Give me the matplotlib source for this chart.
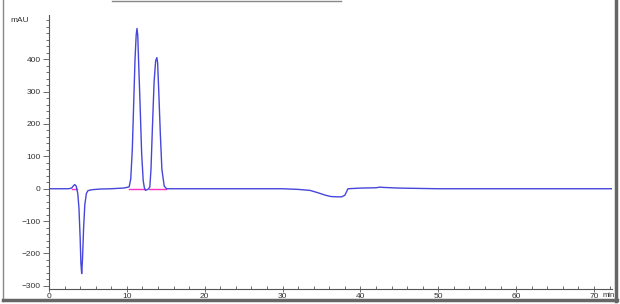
import matplotlib.pyplot as plt
from matplotlib.lines import Line2D
from matplotlib.ticker import MultipleLocator

plt.rcParams["font.family"] = ["Liberation Sans", "DejaVu Sans"]

# chromatogram trace: (time in min, signal in mAU)
time_min = [0, 2.5, 2.9, 3.1, 3.3, 3.5, 3.7, 3.85, 4.0, 4.1,
            4.2, 4.3, 4.45, 4.6, 4.8, 5.0, 5.5, 6.5, 8.0, 9.5,
            10.0, 10.3, 10.5, 10.7, 10.9, 11.05, 11.2, 11.3, 11.4, 11.5,
            11.7, 11.9, 12.1, 12.25, 12.4, 12.7, 12.95, 13.1, 13.3, 13.5,
            13.7, 13.85, 13.95, 14.1, 14.3, 14.5, 14.8, 15.1, 16, 20,
            25, 30, 32, 33.5, 34.5, 35.5, 36.2, 37.0, 37.6, 38.0,
            38.4, 40, 42, 42.5, 43, 45, 50, 60, 70, 72.5]
signal_mau = [0, 0, 2, 8, 13, 8, -15, -60, -150, -230,
              -262, -220, -120, -50, -15, -6, -3, -1, 0, 2,
              4, 6, 30, 120, 280, 400, 475, 495, 475, 400,
              260, 110, 25, 3, -5, -2, 5, 60, 200, 330,
              395, 405, 390, 300, 170, 60, 8, 0, 0, 0,
              0, 0, -2, -5, -12, -20, -24, -25, -25, -20,
              0, 2, 3, 5, 4, 2, 0, 0, 0, 0]

# integration baselines (start, end) in min
baselines = [(2.9, 3.6), (10.3, 12.3), (12.8, 15.0)]

x_ticks = [0, 10, 20, 30, 40, 50, 60, 70]
y_ticks = [-300, -200, -100, 0, 100, 200, 300, 400]

fig = plt.figure(figsize=(6.2, 3.04), dpi=100)
ax = fig.add_axes([0.079, 0.049, 0.908, 0.902])

for t0, t1 in baselines:
    ax.plot([t0, t1], [0, 0], color="#ff30c0", lw=1.0, zorder=2)
ax.plot(time_min, signal_mau, color="#4646dc", lw=1.0, zorder=3)

ax.set_xlim(0, 72.3)
ax.set_ylim(-310, 537)
for side in ["top", "right"]:
    ax.spines[side].set_visible(False)
for side in ["left", "bottom"]:
    ax.spines[side].set_color("#555555")
    ax.spines[side].set_linewidth(0.8)

ax.set_xticks(x_ticks)
ax.set_yticks(y_ticks)
ax.xaxis.set_minor_locator(MultipleLocator(2))
ax.yaxis.set_minor_locator(MultipleLocator(20))
ax.tick_params(axis="both", which="both", colors="#555555", labelcolor="#333333",
               labelsize=6, width=0.6)
ax.tick_params(axis="y", which="major", length=4, pad=2)
ax.tick_params(axis="y", which="minor", length=2)
ax.tick_params(axis="x", which="major", length=4, direction="inout", pad=0.5)
ax.tick_params(axis="x", which="minor", length=2, direction="in")

ax.text(-0.035, 0.98, "mAU", transform=ax.transAxes, fontsize=6,
        color="#333333", ha="right", va="center")
fig.text(0.9725, 0.028, "min", fontsize=5.5, color="#333333",
         ha="left", va="center")

# window frame of the screenshot
fig.add_artist(Line2D([0.005, 0.005], [0.01, 1.0], transform=fig.transFigure,
                      color="#888888", lw=1.0))
fig.add_artist(Line2D([0.993, 0.993], [0.01, 1.0], transform=fig.transFigure,
                      color="#666666", lw=2.5))
fig.add_artist(Line2D([0.005, 0.995], [0.012, 0.012], transform=fig.transFigure,
                      color="#666666", lw=2.5))
fig.add_artist(Line2D([0.18, 0.55], [0.998, 0.998], transform=fig.transFigure,
                      color="#888888", lw=1.0))

fig.savefig("out.png", dpi=100)
